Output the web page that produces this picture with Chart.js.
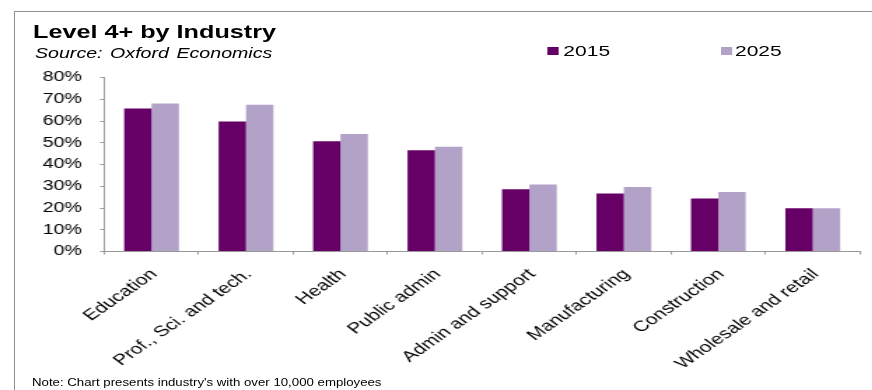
<!DOCTYPE html>
<html>
<head>
<meta charset="utf-8">
<title>Level 4+ by Industry</title>
<script src="https://cdn.jsdelivr.net/npm/chart.js@4/dist/chart.umd.min.js"></script>
<style>
  html, body { margin: 0; padding: 0; background: #fff; }
  body { width: 872px; height: 390px; overflow: hidden; position: relative;
         font-family: "Liberation Sans", Arial, sans-serif; color: #000; }
  #frame { position: absolute; left: 14px; top: 11px; width: 880px; height: 400px;
           border-left: 1px solid #8e8e8e; border-top: 1px solid #8e8e8e; }
  /* the chart block is laid out narrow and widened horizontally */
  #wide { position: absolute; left: 0; top: 0; width: 623px; height: 390px;
          transform: scaleX(1.4); transform-origin: 0 0; }
  #wide canvas { position: absolute; left: 0; top: 0; }
  .title { position: absolute; left: 23.6px; top: 22.6px; font-weight: bold;
           font-size: 18px; line-height: 18px; white-space: nowrap; }
  .source { position: absolute; left: 25px; top: 45.6px; font-style: italic;
            font-size: 14px; line-height: 14px; white-space: nowrap; word-spacing: 1.5px; }
  .lg-box { position: absolute; top: 47.3px; width: 8.3px; height: 7.7px; }
  .lg-text { position: absolute; top: 43px; font-size: 15px; line-height: 15px; white-space: nowrap; }
  #note { position: absolute; left: 32px; top: 376.6px; font-size: 11.5px; line-height: 11.5px;
          white-space: nowrap; transform: scaleX(1.15); transform-origin: 0 0; }
</style>
</head>
<body>
<div id="frame"></div>
<div id="wide">
  <canvas id="chart" width="623" height="390"></canvas>
  <div class="title">Level 4+ by Industry</div>
  <div class="source">Source: Oxford Economics</div>
  <div id="legend"></div>
</div>
<div id="note">Note: Chart presents industry's with over 10,000 employees</div>

<script>
// Share of workers qualified to Level 4+ by industry (%)
const categories = [
  'Education',
  'Prof., Sci. and tech.',
  'Health',
  'Public admin',
  'Admin and support',
  'Manufacturing',
  'Construction',
  'Wholesale and retail'
];
const seriesNames = ['2015', '2025'];
const values2015 = [65.7, 59.8, 50.7, 46.6, 28.6, 26.7, 24.4, 19.9];
const values2025 = [68.1, 67.5, 54.0, 48.2, 30.8, 29.6, 27.3, 19.9];
const yTickValues = [0, 10, 20, 30, 40, 50, 60, 70, 80];
const seriesColors = ['#660066', '#B3A2C7'];

// legend entries placed on the subtitle row
const legendSpots = [{ box: 390.5, text: 402.4 }, { box: 515, text: 525 }];
const legend = document.getElementById('legend');
seriesNames.forEach((name, i) => {
  const box = document.createElement('div');
  box.className = 'lg-box';
  box.style.left = legendSpots[i].box + 'px';
  box.style.background = seriesColors[i];
  const txt = document.createElement('div');
  txt.className = 'lg-text';
  txt.style.left = legendSpots[i].text + 'px';
  txt.textContent = name;
  legend.appendChild(box);
  legend.appendChild(txt);
});

const axisGrey = '#999999';
const fontFamily = '"Liberation Sans", Arial, sans-serif';

new Chart(document.getElementById('chart'), {
  type: 'bar',
  data: {
    labels: categories,
    datasets: [
      { label: seriesNames[0], data: values2015, backgroundColor: seriesColors[0],
        categoryPercentage: 0.58, barPercentage: 1.0 },
      { label: seriesNames[1], data: values2025, backgroundColor: seriesColors[1],
        categoryPercentage: 0.58, barPercentage: 1.0 }
    ]
  },
  options: {
    responsive: false,
    animation: false,
    devicePixelRatio: 1,
    layout: { padding: { left: 0, right: 8.7, top: 77.5, bottom: 0 } },
    plugins: {
      legend: { display: false },
      tooltip: { enabled: false },
      title: { display: false }
    },
    scales: {
      x: {
        grid: { offset: true, drawOnChartArea: false, drawTicks: true, tickLength: 3, color: axisGrey },
        border: { color: axisGrey, width: 1 },
        ticks: {
          color: '#000', autoSkip: false, minRotation: 44, maxRotation: 44,
          padding: 11, labelOffset: 2,
          font: { family: fontFamily, size: 15 }
        },
        afterFit(scale) { scale.height = 138.5; }
      },
      y: {
        min: yTickValues[0],
        max: yTickValues[yTickValues.length - 1],
        afterBuildTicks(scale) { scale.ticks = yTickValues.map(v => ({ value: v })); },
        grid: { drawOnChartArea: false, drawTicks: true, tickLength: 3, color: axisGrey },
        border: { color: axisGrey, width: 1 },
        ticks: {
          color: '#000', padding: 13,
          font: { family: fontFamily, size: 14 },
          callback: v => v + '%'
        },
        afterFit(scale) { scale.width = 74.5; }
      }
    }
  }
});
</script>
</body>
</html>
